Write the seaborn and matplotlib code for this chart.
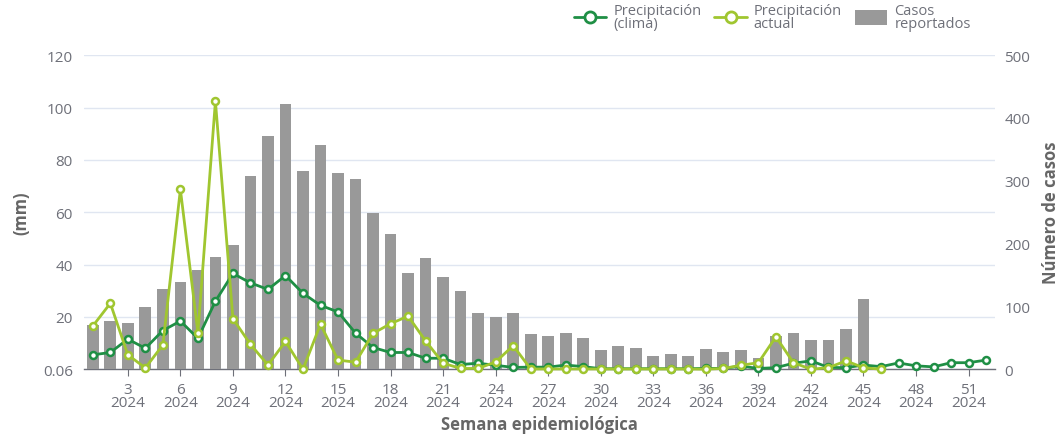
import numpy as np
import pandas as pd
import seaborn as sns
import matplotlib.pyplot as plt
from matplotlib.lines import Line2D
from matplotlib.patches import Patch

# datos
semanas = list(range(1, 53))
casos = [70, 76, 73, 99, 128, 139, 158, 178, 198, 308, 371, 423, 316, 357, 313, 302,
         248, 215, 153, 177, 146, 125, 90, 83, 89, 56, 52, 58, 49, 31, 36, 33, 21, 24,
         21, 32, 27, 31, 17, 52, 57, 46, 46, 64, 111] + [np.nan] * 7
prec_clima = [5.5, 6.4, 11.5, 8.0, 14.8, 18.4, 11.8, 26.0, 36.6, 33.0, 30.5, 35.8, 29.0,
              24.4, 21.9, 13.8, 8.3, 6.4, 6.4, 4.2, 4.2, 1.8, 2.3, 1.5, 0.7, 0.8, 0.8,
              1.6, 1.0, 0.2, 0.2, 0.2, 0.2, 0.2, 0.2, 0.3, 0.3, 1.2, 0.3, 0.6, 2.3, 3.2,
              0.7, 0.6, 1.6, 1.0, 2.4, 1.3, 0.9, 2.5, 2.5, 3.5]
prec_actual = [16.5, 25.2, 5.5, 0.5, 9.3, 68.7, 14.0, 102.4, 19.3, 9.5, 1.6, 10.6, 0.0,
               17.2, 3.5, 2.7, 13.7, 17.4, 20.3, 10.8, 2.3, 0.3, 0.3, 2.8, 9.0, 0.1, 0.1,
               0.1, 0.1, 0.1, 0.1, 0.1, 0.1, 0.1, 0.1, 0.0, 0.3, 1.5, 2.5, 12.4, 2.5, 0.0,
               0.6, 3.2, 0.6, 0.0] + [np.nan] * 6
anio = "2024"

df = pd.DataFrame({"semana": semanas, "casos": casos,
                   "clima": prec_clima, "actual": prec_actual})
df["pos"] = df["semana"] - 1

verde_osc = "#1f8f45"
verde_cla = "#a0c630"
gris_barra = "#999999"
gris_txt = "#6e7079"
gris_tit = "#666666"

sns.set_style("white")
plt.rcParams["font.family"] = ["Open Sans", "DejaVu Sans"]

fig = plt.figure(figsize=(10.64, 4.39), dpi=100)
ax = fig.add_axes([0.079, 0.157, 0.856, 0.715])
ax_c = ax.twinx()
ax_p = ax.twinx()

# grid en el eje izquierdo (fondo)
ax.set_ylim(0.06, 120)
ax.set_yticks([0.06, 20, 40, 60, 80, 100, 120])
ax.set_yticklabels(["0.06", "20", "40", "60", "80", "100", "120"])
ax.grid(axis="y", color="#e0e6f1", linewidth=1)
ax.set_axisbelow(True)

# barras de casos en el eje derecho
sns.barplot(data=df, x="semana", y="casos", ax=ax_c, color=gris_barra,
            width=0.67, errorbar=None, saturation=1, linewidth=0)
ax_c.set_ylim(0, 500)
ax_c.set_yticks([0, 100, 200, 300, 400, 500])
ax_c.patch.set_visible(False)
ax_c.set_xlabel("")

# lineas de precipitacion
for col, c in [("clima", verde_osc), ("actual", verde_cla)]:
    sns.lineplot(data=df, x="pos", y=col, ax=ax_p, color=c, linewidth=2,
                 marker="o", markersize=5, markerfacecolor="white",
                 markeredgecolor=c, markeredgewidth=1.8, clip_on=False)
ax_p.set_ylim(0.06, 120)
ax_p.axis("off")

ax.set_xlim(-0.5, 51.5)
ticks = [s - 1 for s in semanas if s % 3 == 0]
ax.set_xticks(ticks)
ax.set_xticklabels([f"{s}\n{anio}" for s in semanas if s % 3 == 0])

for a in (ax, ax_c):
    for sp in ["top", "left", "right", "bottom"]:
        a.spines[sp].set_visible(False)
ax.spines["bottom"].set_visible(True)
ax.spines["bottom"].set_color(gris_txt)
ax.spines["bottom"].set_linewidth(1)

ax.tick_params(axis="x", length=5, color=gris_txt, labelsize=11, labelcolor=gris_txt,
               pad=4, bottom=True)
ax_c.tick_params(axis="x", bottom=False, labelbottom=False)
ax.tick_params(axis="y", length=0, labelsize=11, labelcolor=gris_txt, pad=8)
ax_c.tick_params(axis="y", length=0, labelsize=11, labelcolor=gris_txt, pad=7)

for lab in ax.get_xticklabels():
    lab.set_linespacing(0.9)

ax.set_xlabel("Semana epidemiológica", fontsize=12, fontweight="bold",
              color=gris_tit, labelpad=3)
ax.set_ylabel("(mm)", fontsize=12, fontweight="bold", color=gris_tit, labelpad=9)
ax_c.set_ylabel("Número de casos", fontsize=12, fontweight="bold", color=gris_tit,
                labelpad=8)
ax_c.yaxis.set_label_position("right")

handles = [
    Line2D([], [], color=verde_osc, linewidth=2, marker="o", markersize=8,
           markerfacecolor="white", markeredgewidth=2),
    Line2D([], [], color=verde_cla, linewidth=2, marker="o", markersize=8,
           markerfacecolor="white", markeredgewidth=2),
    Patch(facecolor=gris_barra, edgecolor="none"),
]
labels = ["Precipitación\n(clima)", "Precipitación\nactual", "Casos\nreportados"]
fig.legend(handles, labels, loc="upper left", bbox_to_anchor=(0.527, 1.02), ncol=3,
           frameon=False, fontsize=10.5, handlelength=2.2, handleheight=1.2,
           columnspacing=0.9, handletextpad=0.5, labelspacing=0.2,
           labelcolor=gris_txt)
for t in fig.legends[0].get_texts():
    t.set_linespacing(0.8)

fig.savefig("out.png", dpi=100)
